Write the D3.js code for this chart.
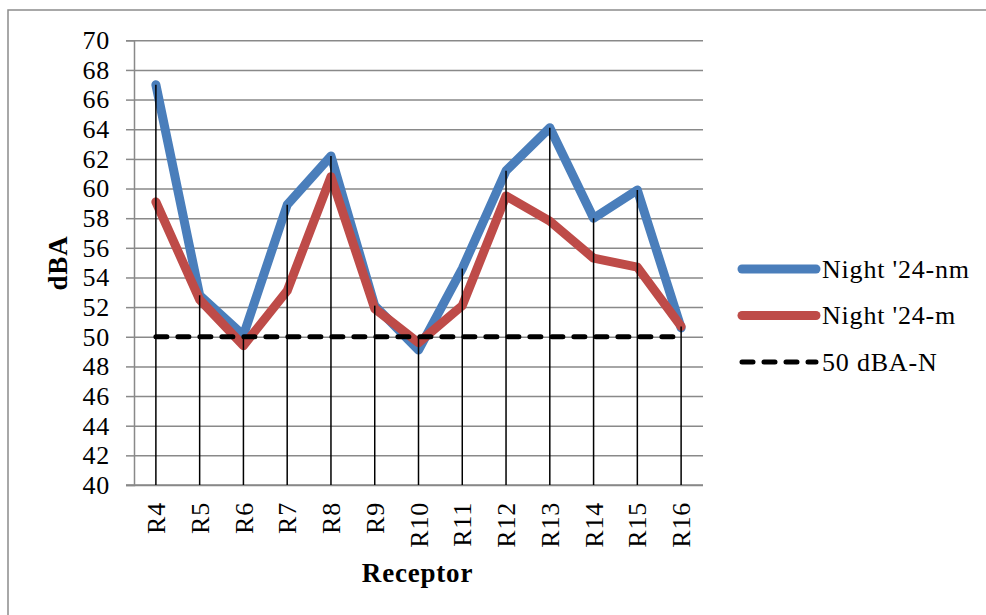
<!DOCTYPE html>
<html>
<head>
<meta charset="utf-8">
<script src="https://cdn.jsdelivr.net/npm/d3@7"></script>
<style>
  html, body { margin: 0; padding: 0; background: #fff; }
  svg text { font-family: "Liberation Serif", "Times New Roman", serif; fill: #000; }
</style>
</head>
<body>
<svg id="chart" width="986" height="615"></svg>
<script>
const categories = ["R4","R5","R6","R7","R8","R9","R10","R11","R12","R13","R14","R15","R16"];
const nightNm = [67.0, 52.8, 50.1, 58.9, 62.2, 52.1, 49.1, 54.6, 61.2, 64.1, 58.0, 59.9, 50.6];
const nightM  = [59.1, 52.5, 49.4, 53.1, 60.8, 51.9, 49.6, 52.1, 59.5, 57.8, 55.3, 54.7, 50.7];
const limitN  = [50, 50, 50, 50, 50, 50, 50, 50, 50, 50, 50, 50, 50];
const yTicks = [40, 42, 44, 46, 48, 50, 52, 54, 56, 58, 60, 62, 64, 66, 68, 70];
const seriesNames = ["Night '24-nm", "Night '24-m", "50 dBA-N"];

const svg = d3.select("#chart");
const W = 986, H = 615;
const plot = { left: 134, right: 703, top: 40.3, bottom: 485 };

// outer border
svg.append("rect").attr("x", 8).attr("y", 10).attr("width", W + 10).attr("height", H + 10)
  .attr("fill", "#fff").attr("stroke", "#8c8c8c").attr("stroke-width", 1.5);

const x = d3.scaleBand().domain(categories).range([plot.left, plot.right]);
const cx = c => x(c) + x.bandwidth() / 2;
const y = d3.scaleLinear().domain([40, 70]).range([plot.bottom, plot.top]);

// horizontal gridlines + y axis via d3.axisLeft
const yAxis = d3.axisLeft(y).tickValues(yTicks).tickSize(8).tickPadding(16).tickFormat(d3.format("d"));
const gy = svg.append("g").attr("transform", `translate(${plot.left},0)`).call(yAxis);
gy.select(".domain").attr("stroke", "#898989").attr("stroke-width", 1.5);
gy.selectAll(".tick line").attr("stroke", "#898989").attr("stroke-width", 1.5);
gy.selectAll(".tick text").attr("font-size", 26).attr("letter-spacing", "0.8px")
  .attr("font-family", "Liberation Serif").attr("fill", "#000");
gy.selectAll(".tick").append("line")
  .attr("x1", 0).attr("x2", plot.right - plot.left)
  .attr("stroke", "#898989").attr("stroke-width", 1.5);

// x axis
const xAxis = d3.axisBottom(x).tickSize(0).tickPadding(0);
const gx = svg.append("g").attr("transform", `translate(0,${plot.bottom})`).call(xAxis);
gx.select(".domain").remove();
gx.append("line").attr("x1", plot.left - 8).attr("x2", plot.right)
  .attr("stroke", "#898989").attr("stroke-width", 1.5);
gx.selectAll(".tick text")
  .attr("font-size", 26).attr("letter-spacing", "0.8px").attr("font-family", "Liberation Serif")
  .attr("fill", "#000")
  .attr("text-anchor", "end")
  .attr("transform", "rotate(-90)")
  .attr("x", -17).attr("y", 0).attr("dy", "0.35em");

const line = d3.line().x((d, i) => cx(categories[i])).y(d => y(d));

svg.append("path").datum(nightNm).attr("d", line)
  .attr("fill", "none").attr("stroke", "#4a7ebb").attr("stroke-width", 9)
  .attr("stroke-linejoin", "round").attr("stroke-linecap", "round");
svg.append("path").datum(nightM).attr("d", line)
  .attr("fill", "none").attr("stroke", "#be4b48").attr("stroke-width", 9)
  .attr("stroke-linejoin", "round").attr("stroke-linecap", "round");
svg.append("path").datum(limitN).attr("d", line)
  .attr("fill", "none").attr("stroke", "#000").attr("stroke-width", 5)
  .attr("stroke-dasharray", "11,11").attr("stroke-linecap", "round");

// drop lines from the highest series value to the category axis
svg.append("g").selectAll("line").data(categories).join("line")
  .attr("x1", c => cx(c)).attr("x2", c => cx(c))
  .attr("y1", (c, i) => y(Math.max(nightNm[i], nightM[i], limitN[i])))
  .attr("y2", plot.bottom)
  .attr("stroke", "#000").attr("stroke-width", 1.5);

// axis titles
svg.append("text").attr("x", plot.left + (plot.right - plot.left) / 2 - 1).attr("y", 582)
  .attr("text-anchor", "middle").attr("font-weight", "bold").attr("font-size", 27)
  .attr("letter-spacing", "0.8px").text("Receptor");
svg.append("text").attr("transform", "translate(67,263) rotate(-90)")
  .attr("text-anchor", "middle").attr("font-weight", "bold").attr("font-size", 27)
  .attr("letter-spacing", "0.8px").text("dBA");

// legend
const legend = [
  { name: seriesNames[0], color: "#4a7ebb", w: 9, dash: null },
  { name: seriesNames[1], color: "#be4b48", w: 9, dash: null },
  { name: seriesNames[2], color: "#000", w: 5, dash: "11,11" }
];
const lg = svg.append("g").selectAll("g").data(legend).join("g")
  .attr("transform", (d, i) => `translate(0,${269 + i * 46.5})`);
lg.append("line").attr("x1", 742).attr("x2", 816).attr("y1", 0).attr("y2", 0)
  .attr("stroke", d => d.color).attr("stroke-width", d => d.w)
  .attr("stroke-linecap", "round").attr("stroke-dasharray", d => d.dash);
lg.append("text").attr("x", 822).attr("y", 8.5).attr("font-size", 26)
  .attr("letter-spacing", "0.8px").text(d => d.name);
</script>
</body>
</html>
